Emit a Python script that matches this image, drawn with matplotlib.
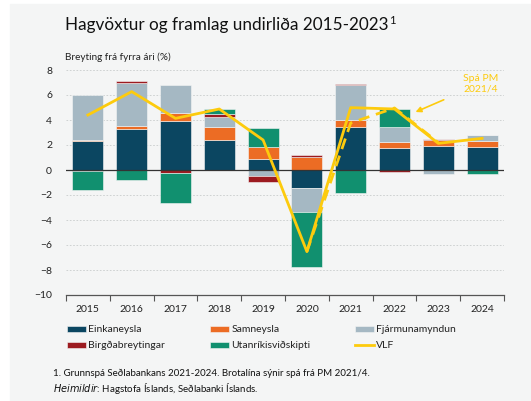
import matplotlib.pyplot as plt
import numpy as np
from matplotlib.patches import Rectangle

plt.rcParams['font.family'] = ['Lato', 'DejaVu Sans']

years = ['2015', '2016', '2017', '2018', '2019', '2020', '2021', '2022', '2023', '2024']
einkaneysla = [2.32, 3.31, 3.89, 2.40, 0.91, -1.47, 3.47, 1.73, 1.92, 1.87]
samneysla = [0.05, 0.21, 0.67, 1.07, 0.96, 1.01, 0.53, 0.53, 0.48, 0.48]
fjarmunamyndun = [3.63, 3.41, 2.24, 0.74, -0.48, -1.92, 2.80, 1.15, -0.35, 0.45]
birgdabreytingar = [-0.10, 0.16, -0.24, 0.24, -0.48, 0.21, 0.08, -0.16, 0.05, 0.0]
utanrikis = [-1.53, -0.80, -2.43, 0.40, 1.46, -4.40, -1.87, 1.47, 0.0, -0.32]
vlf = [4.4, 6.27, 4.13, 4.88, 2.4, -6.53, 4.99, 4.88, 2.13, 2.53]
spa_years = ['2020', '2021', '2022', '2023']
spa_pm = [-6.53, 3.76, 4.96, 2.2]

series = [
    ('Einkaneysla', einkaneysla, '#0b4661'),
    ('Samneysla', samneysla, '#ec6c24'),
    ('Fjármunamyndun', fjarmunamyndun, '#a5b8c3'),
    ('Birgðabreytingar', birgdabreytingar, '#9c1b20'),
    ('Utanríkisviðskipti', utanrikis, '#11906f'),
]

bg = '#f4f5f5'
fig = plt.figure(figsize=(5.31, 4.01), dpi=100)
fig.patches.append(Rectangle((10 / 531, 0), 1, 397 / 401, transform=fig.transFigure,
                             color=bg, zorder=-5))
ax = fig.add_axes([66 / 531, 1 - 295 / 401, 438 / 531, 225 / 401])
ax.set_facecolor(bg)

x = np.arange(len(years))
pos = np.zeros(len(years))
neg = np.zeros(len(years))
handles = {}
for name, vals, col in series:
    v = np.array(vals)
    bottom = np.where(v >= 0, pos, neg)
    handles[name] = ax.bar(x, v, 0.71, bottom=bottom, color=col, label=name, zorder=3,
                           edgecolor=bg, linewidth=0.4)
    pos += np.where(v >= 0, v, 0)
    neg += np.where(v < 0, v, 0)

handles['VLF'], = ax.plot(x, vlf, color='#fdcb0d', lw=2, zorder=5, label='VLF')
xs = [years.index(y) for y in spa_years]
ax.plot(xs, spa_pm, color='#fdcb0d', lw=2, ls=(0, (4, 2.5)), zorder=5)

ax.axhline(0, color='#333333', lw=0.9, zorder=4)
ax.set_xlim(-0.5, len(years) - 0.5)
ax.set_ylim(-10, 8)
ax.set_yticks(range(-10, 9, 2))
for yv in range(-8, 9, 2):
    ax.axhline(yv, color='#c8cccc', lw=0.6, ls=(0, (2, 2)), zorder=1)

for s in ['top', 'right', 'left']:
    ax.spines[s].set_visible(False)
ax.spines['bottom'].set_color('#555555')
ax.spines['bottom'].set_linewidth(0.9)
ax.set_xticks(x)
ax.set_xticklabels(years, fontsize=7.5, color='#222222')
ax.set_xticks(np.arange(-0.5, len(years), 1), minor=True)
ax.tick_params(axis='x', which='major', length=0, pad=7)
ax.tick_params(axis='x', which='minor', length=4, color='#555555', width=0.8)
ax.tick_params(axis='y', length=0, labelsize=7.5, labelcolor='#222222', pad=10)

ax.annotate('Spá PM\n2021/4', xy=(7.48, 4.64), xytext=(8.97, 6.9), color='#fdcb0d',
            fontsize=7.5, ha='center', va='center',
            arrowprops=dict(arrowstyle='-|>', color='#fdcb0d', lw=1.2,
                            shrinkA=13, shrinkB=0, mutation_scale=8))

title = fig.text(65 / 531, 1 - 25 / 401, 'Hagvöxtur og framlag undirliða 2015-2023',
                 fontsize=12.3, va='center', color='#111111')
fig.canvas.draw()
bb = title.get_window_extent()
fig.text(bb.x1 / 531 + 1 / 531, 1 - 20 / 401, '1', fontsize=8, va='center', color='#111111')
fig.text(65 / 531, 1 - 57 / 401, 'Breyting frá fyrra ári (%)', fontsize=7.2,
         va='center', color='#222222')

columns = [['Einkaneysla', 'Birgðabreytingar'],
           ['Samneysla', 'Utanríkisviðskipti'],
           ['Fjármunamyndun', 'VLF']]
col_x = [58, 201, 346]
for names, cx in zip(columns, col_x):
    leg = fig.legend([handles[n] for n in names], names, loc='upper left',
                     bbox_to_anchor=(cx / 531, 1 - 316 / 401), frameon=False,
                     fontsize=7.5, handlelength=1.8, handleheight=0.5,
                     handletextpad=0.2, labelspacing=0.65)
    for t in leg.get_texts():
        t.set_color('#222222')

fig.text(53 / 531, 1 - 373 / 401,
         '1. Grunnspá Seðlabankans 2021-2024. Brotalína sýnir spá frá PM 2021/4.',
         fontsize=7, va='center', color='#111111')
fig.text(53 / 531, 1 - 389 / 401,
         r'$\it{Heimildir}$' + ': Hagstofa Íslands, Seðlabanki Íslands.',
         fontsize=7, va='center', color='#111111')

fig.savefig('out.png', dpi=100, facecolor='white')
